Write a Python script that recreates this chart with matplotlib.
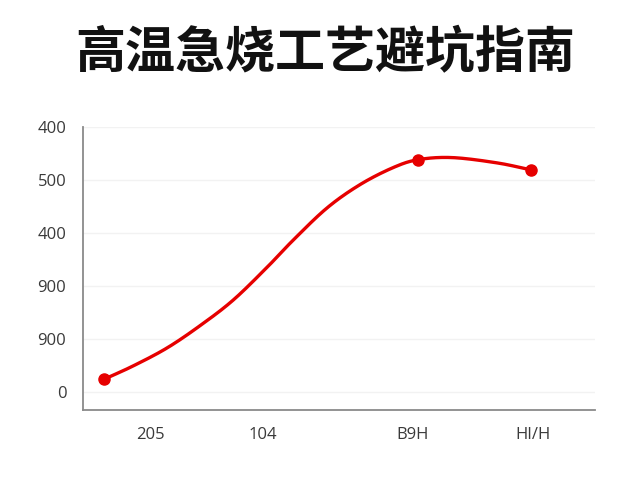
import matplotlib
matplotlib.use("Agg")
import matplotlib.pyplot as plt
import numpy as np

plt.rcParams['font.family'] = ['Noto Sans CJK SC', 'DejaVu Sans']

title = "高温急烧工艺避坑指南"

# curve (x in axis units, y in tick-index units)
curve_x = [0.21, 0.50, 0.84, 1.17, 1.50, 1.84, 2.10, 2.44, 2.77, 3.10, 3.35, 3.69, 4.14, 4.475]
curve_y = [0.24, 0.49, 0.83, 1.25, 1.73, 2.35, 2.86, 3.47, 3.91, 4.23, 4.38, 4.42, 4.32, 4.19]

# marked points
marker_x = [0.21, 3.35, 4.475]
marker_y = [0.24, 4.38, 4.19]

x_tick_pos = [0.67, 1.80, 3.30, 4.50]
x_tick_labels = ["205", "104", "B9H", "HI/H"]

y_tick_pos = [0, 1, 2, 3, 4, 5]
y_tick_labels = ["0", "900", "900", "400", "500", "400"]


def smooth_path(xs, ys, n=30):
    """Catmull-Rom rendering of the read points (line style only)."""
    p = np.column_stack([xs, ys]).astype(float)
    p = np.vstack([2 * p[0] - p[1], p, 2 * p[-1] - p[-2]])
    out = []
    t = np.linspace(0, 1, n, endpoint=False)[:, None]
    for i in range(1, len(p) - 2):
        p0, p1, p2, p3 = p[i - 1], p[i], p[i + 1], p[i + 2]
        seg = 0.5 * ((2 * p1) + (-p0 + p2) * t + (2 * p0 - 5 * p1 + 4 * p2 - p3) * t ** 2
                     + (-p0 + 3 * p1 - 3 * p2 + p3) * t ** 3)
        out.append(seg)
    out.append(p[-2][None, :])
    out = np.vstack(out)
    return out[:, 0], out[:, 1]


fig = plt.figure(figsize=(6.4, 4.8), dpi=100)
fig.patch.set_facecolor("white")
ax = fig.add_axes([0.1297, 0.1458, 0.80, 0.590])

sx, sy = smooth_path(curve_x, curve_y)
ax.plot(sx, sy, color="#e60000", linewidth=2.4, solid_capstyle="round", zorder=3)
ax.plot(marker_x, marker_y, linestyle="none", marker="o", markersize=8,
        color="#e60000", zorder=4)

ax.set_xlim(0, 5.12)
ax.set_ylim(-0.34, 5.0)

ax.set_xticks(x_tick_pos)
ax.set_xticklabels(x_tick_labels, fontsize=12, color="#3a3a3a", family=["Open Sans", "DejaVu Sans"])
ax.set_yticks(y_tick_pos)
ax.set_yticklabels(y_tick_labels, fontsize=12, color="#3a3a3a", family=["Open Sans", "DejaVu Sans"])
ax.tick_params(axis="both", length=0)
ax.tick_params(axis="x", pad=12)
ax.tick_params(axis="y", pad=12)

ax.grid(axis="y", color="#f2f2f2", linewidth=1.0)
ax.set_axisbelow(True)
for s in ["top", "right"]:
    ax.spines[s].set_visible(False)
for s in ["left", "bottom"]:
    ax.spines[s].set_color("#8a8a8a")
    ax.spines[s].set_linewidth(1.3)

fig.text(0.508, 0.887, title, ha="center", va="center", fontsize=36,
         fontweight="bold", color="#111111")

fig.savefig("out.png", dpi=100, facecolor="white")
